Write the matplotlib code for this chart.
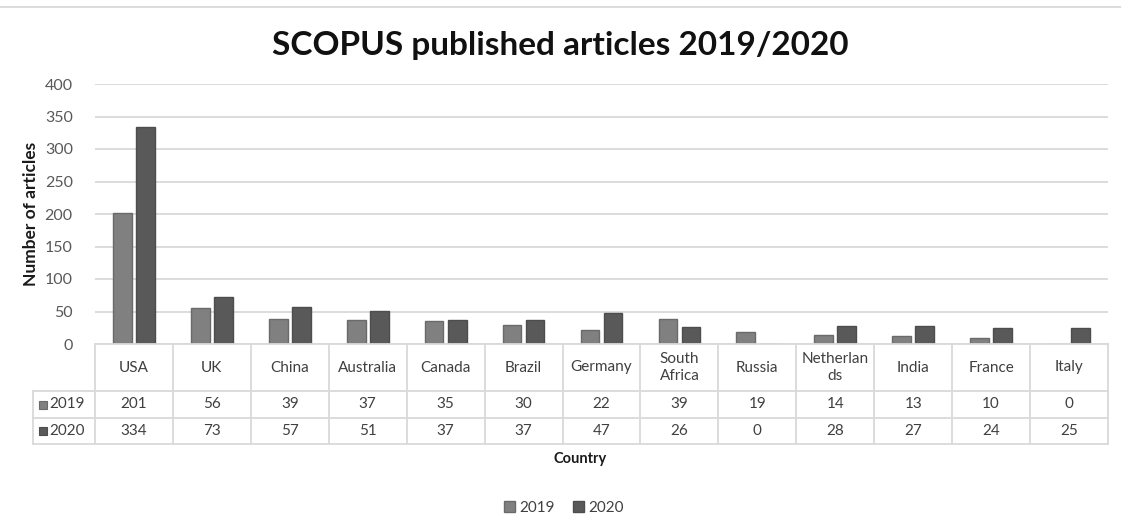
import matplotlib.pyplot as plt
from matplotlib.lines import Line2D
from matplotlib.patches import Rectangle
import numpy as np

countries = ["USA", "UK", "China", "Australia", "Canada", "Brazil", "Germany",
             "South\nAfrica", "Russia", "Netherlan\nds", "India", "France", "Italy"]
articles_2019 = [201, 56, 39, 37, 35, 30, 22, 39, 19, 14, 13, 10, 0]
articles_2020 = [334, 73, 57, 51, 37, 37, 47, 26, 0, 28, 27, 24, 25]
series_labels = ["2019", "2020"]
y_ticks = [0, 50, 100, 150, 200, 250, 300, 350, 400]

FONT = ["Lato", "DejaVu Sans"]
plt.rcParams["font.family"] = FONT

W, H = 1121, 532
fig = plt.figure(figsize=(W / 100, H / 100), dpi=100)

def box(x0, y0, x1, y1):
    return [x0 / W, 1 - y1 / H, (x1 - x0) / W, (y1 - y0) / H]

c19, e19 = "#808080", "#6a6a6a"
c20, e20 = "#595959", "#4d4d4d"
grid_c = "#d9d9d9"
text_c = "#404040"

ax = fig.add_axes(box(95, 84, 1108, 344))
n = len(countries)
x = np.arange(n)
bw, off = 0.24, 0.148
b19 = ax.bar(x - off, articles_2019, bw, color=c19, edgecolor=e19, linewidth=1, zorder=3, label=series_labels[0])
b20 = ax.bar(x + off, articles_2020, bw, color=c20, edgecolor=e20, linewidth=1, zorder=3, label=series_labels[1])
ax.set_xlim(-0.5, n - 0.5)
ax.set_ylim(0, 400)
ax.set_yticks(y_ticks)
ax.set_yticklabels([str(v) for v in y_ticks], color="#595959", fontsize=11.5)
ax.tick_params(axis="y", length=0, pad=16)
ax.set_xticks([])
for s in ax.spines.values():
    s.set_visible(False)
ax.grid(axis="y", color=grid_c, linewidth=1.3, zorder=0)
ax.set_axisbelow(True)
ax.set_ylabel("Number of articles", fontsize=12.5, fontweight="bold", color="#1a1a1a")
ax.yaxis.set_label_coords(-56 / 1013, 0.5)

# data table under the plot, sharing the category positions
tx = fig.add_axes(box(95, 344, 1108, 444), sharex=ax)
tx.set_ylim(100, 0)
tx.axis("off")
row_edges = [0, 47, 74, 100]
left = -0.5 - 62 / 78.0
lk = dict(color=grid_c, linewidth=1.3, clip_on=False)
# horizontal lines
tx.plot([-0.5, n - 0.5], [0, 0], **lk)
for yy in row_edges[1:]:
    tx.plot([left, n - 0.5], [yy, yy], **lk)
# vertical lines
for i in range(n + 1):
    tx.plot([i - 0.5, i - 0.5], [0, 100], **lk)
tx.plot([left, left], [47, 100], **lk)

for i, name in enumerate(countries):
    tx.text(i, 23.5, name, ha="center", va="center", fontsize=11, color=text_c, linespacing=1.2)
    tx.text(i, 60.5, str(articles_2019[i]), ha="center", va="center", fontsize=11, color=text_c)
    tx.text(i, 87, str(articles_2020[i]), ha="center", va="center", fontsize=11, color=text_c)

key_w = 8 / 78.0
for yc, lab, fc, ec in [(60.5, series_labels[0], c19, e19), (87, series_labels[1], c20, e20)]:
    tx.add_patch(Rectangle((left + 6 / 78.0, yc - 4), key_w, 8, facecolor=fc, edgecolor=ec,
                           linewidth=0.8, clip_on=False))
    tx.text(left + 16 / 78.0, yc, lab, ha="left", va="center", fontsize=11, color=text_c)

fig.text(580 / W, 1 - 459 / H, "Country", ha="center", va="center", fontsize=10.5,
         fontweight="bold", color="#1a1a1a")

fig.text(560 / W, 1 - 45 / H, "SCOPUS published articles 2019/2020", ha="center", va="center",
         fontsize=24, fontweight="bold", color="#111111")

fig.add_artist(Line2D([0, 1], [1 - 7 / H, 1 - 7 / H], color="#d9d9d9", linewidth=1.3))

fig.legend(handles=[b19, b20], labels=series_labels, loc="center", bbox_to_anchor=(564 / W, 1 - 508 / H),
           ncol=2, frameon=False, fontsize=11, handlelength=0.7, handleheight=0.7,
           handletextpad=0.3, columnspacing=1.2, labelcolor=text_c)

fig.savefig("out.png", dpi=100, facecolor="white")
